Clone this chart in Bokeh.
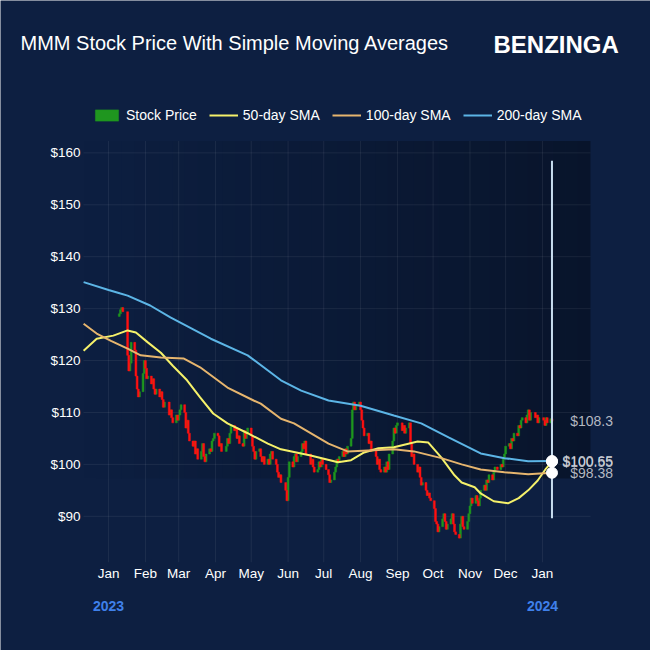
from datetime import datetime
import pandas as pd
from bokeh.plotting import figure
from bokeh.models import (ColumnDataSource, Legend, LegendItem, Label, BoxAnnotation, Range1d)
from bokeh.core.properties import value
from bokeh.embed import file_html
from bokeh.resources import INLINE

# ---------------- data ----------------
title_text = "MMM Stock Price With Simple Moving Averages"
brand_text = "BENZINGA"
series_names = ["Stock Price", "50-day SMA", "100-day SMA", "200-day SMA"]

market_holidays = ["2023-01-16", "2023-02-20", "2023-04-07", "2023-05-29", "2023-06-19",
                   "2023-07-04", "2023-09-04", "2023-11-23", "2023-12-25", "2024-01-01"]
first_trading_day = "2023-01-10"
first_open = 128.5

close_jan23 = [129.0, 129.8, 130.2, 129.4, 121.0, 118.0, 119.5, 123.5, 122.0, 117.0, 114.5, 113.0, 114.0, 117.5, 120.0]
close_feb23 = [118.5, 116.5, 117.0, 115.5, 116.5, 114.5, 113.5, 114.5, 113.0, 114.0, 112.5, 111.0, 112.0, 109.5, 110.5, 109.0, 108.0, 109.5, 108.5]
close_mar23 = [109.5, 110.5, 111.5, 110.0, 107.0, 108.5, 106.0, 104.5, 103.5, 104.5, 102.0, 103.0, 101.0, 102.5, 104.0, 101.5, 100.5, 102.0, 103.0, 102.5, 104.5, 105.0, 106.0]
close_apr23 = [105.5, 103.5, 104.0, 102.5, 103.5, 105.0, 104.0, 106.0, 107.5, 106.5, 107.0, 105.0, 105.5, 104.0, 103.5, 106.5, 105.0, 106.0, 107.0]
close_may23 = [105.5, 103.5, 102.5, 101.0, 102.5, 103.0, 101.5, 100.5, 101.5, 100.0, 101.0, 100.0, 102.0, 102.5, 101.0, 100.0, 98.5, 97.5, 98.0, 96.5, 95.0, 93.0]
close_jun23 = [97.5, 100.5, 99.5, 101.5, 102.0, 100.5, 101.5, 102.5, 104.0, 103.0, 104.5, 102.0, 100.0, 101.0, 99.5, 98.5, 99.0, 100.5, 99.5, 101.0, 100.0]
close_jul23 = [99.0, 98.0, 96.5, 97.0, 98.5, 99.5, 101.0, 100.5, 101.5, 102.5, 101.5, 103.0, 102.0, 103.5, 105.0, 110.5, 112.0, 110.5, 111.5, 112.0]
close_aug23 = [110.5, 108.5, 107.0, 105.5, 106.0, 104.0, 104.5, 102.5, 103.0, 101.5, 100.0, 101.0, 99.0, 98.5, 99.5, 98.5, 100.5, 99.0, 102.0, 104.5, 107.0, 106.0, 107.5]
close_sep23 = [108.0, 106.5, 107.5, 106.0, 107.0, 108.0, 104.0, 101.5, 102.0, 100.0, 98.5, 99.5, 97.5, 96.0, 96.5, 95.0, 94.0, 94.5, 93.5, 93.0]
close_oct23 = [91.5, 89.0, 88.5, 87.0, 88.0, 89.5, 90.5, 89.0, 87.5, 88.5, 89.5, 90.5, 88.5, 87.0, 86.5, 85.8, 88.5, 90.0, 88.0, 87.5, 89.0, 90.5]
close_nov23 = [92.0, 93.5, 92.5, 94.0, 93.0, 92.0, 93.5, 95.0, 96.0, 95.0, 97.0, 96.5, 98.0, 97.0, 98.5, 99.5, 99.0, 100.0, 99.5, 101.0, 102.0]
close_dec23 = [103.5, 104.0, 103.0, 105.0, 104.5, 106.0, 105.5, 107.5, 107.0, 108.5, 109.0, 108.0, 109.5, 110.5, 108.5, 110.0, 109.0, 109.5, 108.0, 109.0]
close_jan24 = [108.5, 107.5, 109.0, 108.0, 108.8, 108.3]

sma50_dates = ["2022-12-11", "2022-12-22", "2023-01-05", "2023-01-17", "2023-01-24", "2023-02-03",
               "2023-02-14", "2023-02-24", "2023-03-08", "2023-03-19", "2023-03-30", "2023-04-11",
               "2023-04-28", "2023-05-15", "2023-05-26", "2023-06-20", "2023-07-13", "2023-07-24",
               "2023-08-04", "2023-08-16", "2023-08-29", "2023-09-18", "2023-09-27", "2023-10-08",
               "2023-10-19", "2023-10-25", "2023-11-05", "2023-11-10", "2023-11-21", "2023-12-03",
               "2023-12-12", "2023-12-20", "2023-12-28", "2024-01-04", "2024-01-09"]
sma50_vals = [121.9, 124.2, 124.8, 125.8, 125.4, 123.5, 121.5, 119.0, 116.2, 112.9, 109.8, 107.9,
              106.0, 104.0, 102.9, 101.7, 100.4, 100.8, 102.3, 103.1, 103.3, 104.4, 104.2, 101.3,
              97.9, 96.5, 95.6, 94.4, 92.9, 92.5, 93.5, 95.0, 96.9, 99.2, 100.55]

sma100_dates = ["2022-12-11", "2022-12-22", "2023-01-03", "2023-01-17", "2023-01-28", "2023-02-14",
                "2023-03-05", "2023-03-19", "2023-04-11", "2023-05-03", "2023-05-09", "2023-05-26",
                "2023-06-06", "2023-07-05", "2023-07-21", "2023-08-29", "2023-09-15", "2023-10-08",
                "2023-10-25", "2023-11-10", "2023-11-30", "2023-12-20", "2024-01-09"]
sma100_vals = [127.1, 125.2, 123.8, 122.3, 121.0, 120.6, 120.4, 118.7, 114.8, 112.3, 111.7, 108.8,
               107.9, 104.0, 102.5, 102.9, 102.5, 101.2, 100.0, 99.0, 98.5, 98.1, 98.38]

sma200_dates = ["2022-12-11", "2023-01-01", "2023-01-11", "2023-01-17", "2023-02-05", "2023-02-22",
                "2023-03-28", "2023-04-28", "2023-05-26", "2023-06-12", "2023-07-05", "2023-08-01",
                "2023-08-29", "2023-09-21", "2023-10-14", "2023-11-10", "2023-11-30", "2023-12-20",
                "2024-01-09"]
sma200_vals = [135.1, 133.6, 132.9, 132.5, 130.6, 128.3, 124.2, 121.0, 116.2, 114.2, 112.3, 111.3,
               109.4, 107.9, 105.2, 102.1, 101.2, 100.6, 100.65]

last_labels = ["$108.3", "$100.65", "$100.55", "$98.38"]
last_values = [108.3, 100.65, 100.55, 98.38]
crosshair_low, crosshair_high = 89.6, 158.5

price_ticks = [90, 100, 110, 120, 130, 140, 150, 160]
price_tick_labels = ["$90", "$100", "$110", "$120", "$130", "$140", "$150", "$160"]
month_ticks = ["2023-01-01", "2023-02-01", "2023-03-01", "2023-04-01", "2023-05-01", "2023-06-01",
               "2023-07-01", "2023-08-01", "2023-09-01", "2023-10-01", "2023-11-01", "2023-12-01",
               "2024-01-01"]
month_labels = ["Jan", "Feb", "Mar", "Apr", "May", "Jun", "Jul", "Aug", "Sep", "Oct", "Nov", "Dec", "Jan"]
year_ticks = ["2023-01-01", "2024-01-01"]
year_labels = ["2023", "2024"]

# chart window (data area) and shaded panel
area_x0, area_x1 = datetime(2022, 12, 10, 22), datetime(2024, 2, 10, 10)
area_y0, area_y1 = 81.15, 162.3
shade_floor = 97.3
# whole canvas range (room for headline, legend, tick labels and value labels)
view_x0, view_x1 = datetime(2022, 10, 2, 2), datetime(2024, 3, 31, 21)
view_y0, view_y1 = 64.15, 189.35

# ---------------- styles ----------------
BG = "#0d1f41"
FONT = "Liberation Sans"
RED = "#ff1111"
GREEN = "#1f961f"
C50, C100, C200 = "#f5f16a", "#e6b56e", "#5cb5e6"
GRID = "#ffffff"
YEAR = "#3f80ea"


def ms(t):
    return pd.Timestamp(t).value / 1e6


closes = (close_jan23 + close_feb23 + close_mar23 + close_apr23 + close_may23 + close_jun23 +
          close_jul23 + close_aug23 + close_sep23 + close_oct23 + close_nov23 + close_dec23 + close_jan24)
dates = pd.bdate_range(start=first_trading_day, periods=len(closes), freq="C", holidays=market_holidays)
opens = [first_open] + closes[:-1]

inc = dict(x=[], top=[], bottom=[])
dec = dict(x=[], top=[], bottom=[])
for d, o, c in zip(dates, opens, closes):
    tgt = inc if c >= o else dec
    tgt["x"].append(d)
    tgt["top"].append(max(o, c))
    tgt["bottom"].append(min(o, c))

p = figure(width=650, height=650, x_axis_type="datetime",
           x_axis_location=None, y_axis_location=None,
           x_range=Range1d(view_x0, view_x1), y_range=Range1d(view_y0, view_y1),
           output_backend="svg", toolbar_location=None,
           min_border_left=0, min_border_right=0, min_border_top=0, min_border_bottom=0,
           background_fill_color=BG, border_fill_color=BG, outline_line_color=None)
p.xgrid.visible = False
p.ygrid.visible = False

mt = pd.to_datetime(month_ticks)
yt = pd.to_datetime(year_ticks)

# darker gradient panel
xs_ms, xe_ms = ms(area_x0), ms(area_x1)
N = 40
for i in range(N):
    l = xs_ms + (xe_ms - xs_ms) * i / N
    r = xs_ms + (xe_ms - xs_ms) * (i + 1) / N
    p.add_layout(BoxAnnotation(left=l, right=r, bottom=shade_floor, top=area_y1, fill_color="black",
                               fill_alpha=0.33 * (i + 0.5) / N, line_alpha=0, level="underlay"))

# grid lines limited to the chart window
p.segment(x0=list(mt), y0=[area_y0] * len(mt), x1=list(mt), y1=[area_y1] * len(mt),
          line_color=GRID, line_alpha=0.07, line_width=1)
p.segment(x0=[area_x0] * len(price_ticks), y0=price_ticks, x1=[area_x1] * len(price_ticks),
          y1=price_ticks, line_color=GRID, line_alpha=0.07, line_width=1)

# tick labels (price, month, year)
p.text(x=[area_x0] * len(price_ticks), y=price_ticks, text=price_tick_labels, x_offset=-3,
       text_align="right", text_baseline="middle", text_color="white",
       text_font=value(FONT), text_font_size="13.5px")
p.text(x=list(mt), y=[area_y0] * len(mt), text=month_labels, y_offset=11,
       text_align="center", text_baseline="middle", text_color="white",
       text_font=value(FONT), text_font_size="13.5px")
p.text(x=list(yt), y=[area_y0] * len(yt), text=year_labels, y_offset=44,
       text_align="center", text_baseline="middle", text_color=YEAR, text_font_style="bold",
       text_font=value(FONT), text_font_size="14px")

# candles
cw = 1.6 * 24 * 3600 * 1000
r_inc = p.vbar(x="x", top="top", bottom="bottom", width=cw, source=ColumnDataSource(inc),
               fill_color=GREEN, line_color=GREEN, line_width=0.5)
r_dec = p.vbar(x="x", top="top", bottom="bottom", width=cw, source=ColumnDataSource(dec),
               fill_color=RED, line_color=RED, line_width=0.5)

# SMAs
r50 = p.line(pd.to_datetime(sma50_dates), sma50_vals, line_color=C50, line_width=2)
r100 = p.line(pd.to_datetime(sma100_dates), sma100_vals, line_color=C100, line_width=2)
r200 = p.line(pd.to_datetime(sma200_dates), sma200_vals, line_color=C200, line_width=2)

# last-value marker
last_date = dates[-1]
p.segment(x0=[last_date], y0=[crosshair_low], x1=[last_date], y1=[crosshair_high],
          line_color="#c6dcee", line_width=2)
p.scatter([last_date] * 3, [sma200_vals[-1], sma50_vals[-1], sma100_vals[-1]],
          size=11, fill_color="white", line_color="white")
for txt, v in zip(last_labels, last_values):
    p.add_layout(Label(x=last_date, y=v, text=txt, x_offset=61, text_align="right",
                       text_baseline="middle", text_color="#d4d7dd", text_alpha=0.85,
                       text_font=FONT, text_font_size="14px"))

# legend
dummy_seg = p.segment(x0=[], y0=[], x1=[], y1=[], line_color=RED, line_width=2)
dots = [p.scatter(x=[], y=[], size=4, fill_color="white", line_color="white") for _ in range(3)]
items = [LegendItem(label=series_names[0], renderers=[r_inc, dummy_seg]),
         LegendItem(label=series_names[1], renderers=[r50, dots[0]]),
         LegendItem(label=series_names[2], renderers=[r100, dots[1]]),
         LegendItem(label=series_names[3], renderers=[r200, dots[2]])]
legend = Legend(items=items, orientation="horizontal", location=(92, 527),
                background_fill_alpha=0, border_line_alpha=0,
                label_text_color="white", label_text_font=FONT, label_text_font_size="14px",
                glyph_width=29, glyph_height=14, spacing=12, label_standoff=5,
                padding=0, margin=0)
p.add_layout(legend)

# headline and brand
p.add_layout(Label(x=20, y=608, x_units="screen", y_units="screen", text=title_text,
                   text_color="white", text_font=FONT, text_font_size="20px", text_baseline="middle"))
p.add_layout(Label(x=493, y=606, x_units="screen", y_units="screen", text=brand_text,
                   text_color="white", text_font=FONT, text_font_size="24px",
                   text_font_style="bold", text_baseline="middle"))

open("out.html", "w").write(file_html(p, INLINE))
